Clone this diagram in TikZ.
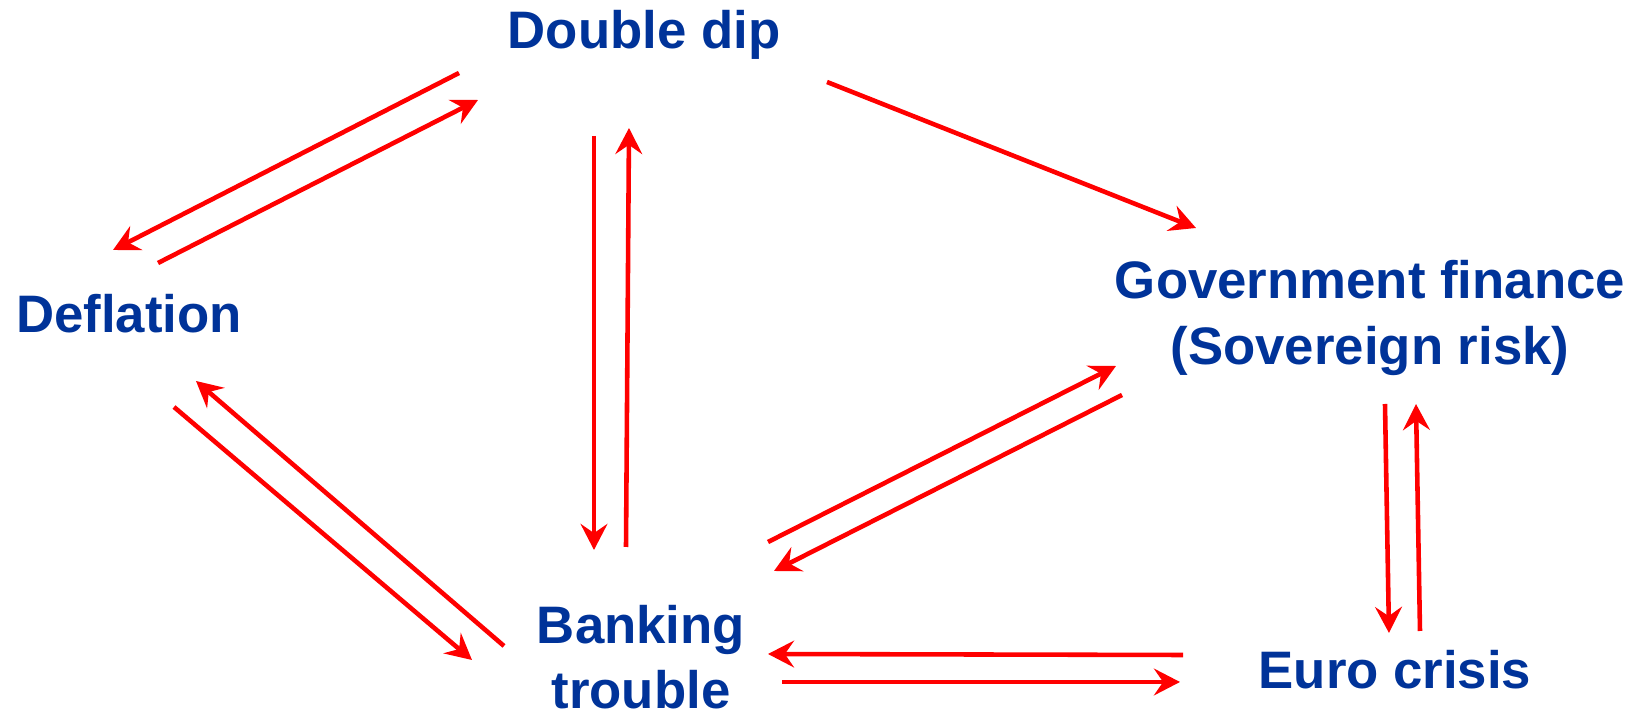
\documentclass[tikz,border=0pt]{standalone}
\usepackage{fontspec}
\setmainfont{Liberation Sans}
\usepackage{tikz}
\usetikzlibrary{arrows.meta}
\definecolor{deepblue}{RGB}{0,51,153}

\begin{document}
\begin{tikzpicture}[
    x=0.01cm, y=-0.01cm,
    topic/.style={align=center, inner sep=0pt, text=deepblue, font=\fontsize{15}{18.5}\selectfont\bfseries},
    arrow/.style={-{Stealth[length=7.4pt, width=7.6pt, inset=2.6pt]}, red, line width=1.3pt}
]
\useasboundingbox (0,0) rectangle (1635,716);

\node[topic] (dd) at (644,35) {Double dip};
\node[topic] (defl) at (129,314) {Deflation};
\node[topic] (gov) at (1370,318) {Government finance\\(Sovereign risk)};
\node[topic] (bank) at (641,657) {Banking\\trouble};
\node[topic] (euro) at (1395,670) {Euro crisis};

\draw[arrow] ([shift={(-185,38)}]dd.center) -- ([shift={(-16,-64)}]defl.center);
\draw[arrow] ([shift={(29,-51)}]defl.center) -- ([shift={(-166,65)}]dd.center);
\draw[arrow] ([shift={(-50,101)}]dd.center) -- ([shift={(-47,-107)}]bank.center);
\draw[arrow] ([shift={(-15,-110)}]bank.center) -- ([shift={(-15,93)}]dd.center);
\draw[arrow] ([shift={(183,47)}]dd.center) -- ([shift={(-174,-90)}]gov.center);
\draw[arrow] ([shift={(45,93)}]defl.center) -- ([shift={(-169,3)}]bank.center);
\draw[arrow] ([shift={(-137,-11)}]bank.center) -- ([shift={(67,67)}]defl.center);
\draw[arrow] ([shift={(127,-115)}]bank.center) -- ([shift={(-254,48)}]gov.center);
\draw[arrow] ([shift={(-248,77)}]gov.center) -- ([shift={(133,-86)}]bank.center);
\draw[arrow] ([shift={(15,86)}]gov.center) -- ([shift={(-6,-37)}]euro.center);
\draw[arrow] ([shift={(25,-39)}]euro.center) -- ([shift={(46,86)}]gov.center);
\draw[arrow] ([shift={(-212,-15)}]euro.center) -- ([shift={(127,-3)}]bank.center);
\draw[arrow] ([shift={(141,25)}]bank.center) -- ([shift={(-215,12)}]euro.center);
\end{tikzpicture}
\end{document}
